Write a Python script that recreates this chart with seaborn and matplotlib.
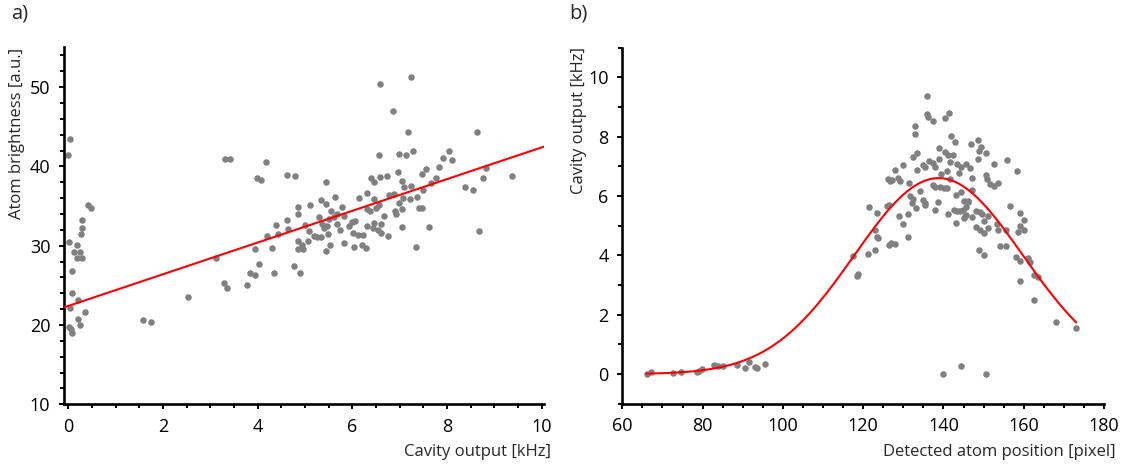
import numpy as np
import pandas as pd
import matplotlib
matplotlib.use("Agg")
import matplotlib.pyplot as plt
from matplotlib.ticker import MultipleLocator
import seaborn as sns

# ---------------- data: panel a ----------------
a_cavity = [
    0.03, 0.00, 0.42, 0.47, 0.29, 0.29, 0.27, 0.01, 0.18, 0.13, 0.25, 0.18, 0.29,
    0.08, 0.08, 0.21, 0.04, 0.35, 0.21, 0.01, 0.06, 0.08, 0.24,
    1.57, 1.75, 2.52, 3.13, 3.31, 3.41, 3.28, 3.36, 3.77, 3.83, 3.95, 3.94, 4.03,
    3.99, 4.07, 4.18, 4.20, 4.31, 4.34, 4.38, 4.44, 4.62, 4.78, 4.63, 4.64, 4.77,
    4.90, 4.85, 4.86, 4.86, 4.86, 4.93, 4.96,
    5.44, 6.59, 6.86, 6.57, 6.98, 6.40, 6.45, 6.58, 6.74, 6.96, 5.64, 5.34, 5.44,
    5.11, 5.01, 5.09, 5.06, 5.29, 5.20, 5.25, 5.34, 5.37, 5.41, 5.46, 5.51, 5.48,
    5.53, 5.45, 5.56, 5.62, 5.68, 5.67, 5.73, 5.78, 5.83, 5.83, 5.93, 5.99, 6.05,
    6.02, 6.03, 6.13, 6.23, 6.14, 6.31, 6.45, 6.31, 6.37, 6.50, 6.57, 6.31, 6.46,
    6.61, 6.43, 6.55, 6.61, 6.20, 6.30, 6.66, 6.75, 6.78, 6.88, 6.90, 6.93, 6.98,
    7.23, 7.18, 8.64, 7.13, 7.29, 8.04, 7.91, 8.11, 7.47, 7.55, 7.84, 8.82, 7.04,
    7.10, 7.24, 7.77, 7.66, 7.49, 8.77, 9.37, 8.38, 8.55, 7.08, 7.21, 7.37, 7.06,
    7.40, 7.48, 7.05, 7.63, 7.34, 8.68,
]
a_brightness = [
    43.5, 41.5, 35.1, 34.8, 33.2, 32.2, 31.5, 30.5, 30.1, 29.2, 29.2, 28.4, 28.4,
    26.8, 24.1, 23.2, 22.1, 21.6, 20.8, 19.8, 19.5, 19.0, 20.0,
    20.6, 20.4, 23.5, 28.4, 41.0, 40.9, 25.3, 24.7, 25.1, 26.5, 26.3, 29.6, 27.7,
    38.6, 38.3, 40.5, 31.2, 29.7, 26.5, 32.6, 31.5, 38.9, 38.8, 33.3, 32.1, 27.5,
    26.5, 34.9, 34.0, 30.6, 29.6, 30.1, 29.6,
    38.05, 50.4, 47.0, 41.5, 41.6, 38.6, 38.0, 38.7, 38.8, 39.3, 36.2, 35.8, 35.2,
    35.1, 32.6, 31.8, 30.6, 33.6, 31.2, 31.1, 31.15, 32.7, 32.2, 32.5, 33.4, 31.45,
    30.1, 29.3, 34.4, 33.6, 34.0, 32.7, 32.0, 34.9, 33.8, 30.4, 32.5, 33.0, 33.1,
    31.6, 29.85, 31.4, 31.3, 36.0, 36.6, 35.9, 34.6, 34.4, 34.7, 35.1, 32.5, 32.9,
    32.8, 32.2, 32.0, 31.65, 30.1, 29.7, 33.7, 31.2, 36.4, 36.5, 34.4, 34.05, 35.4,
    51.3, 44.3, 44.3, 41.5, 41.9, 42.0, 41.1, 40.8, 39.1, 39.7, 39.9, 39.8, 38.2,
    37.4, 37.5, 38.5, 37.9, 37.0, 38.5, 38.8, 37.4, 37.0, 36.0, 35.9, 36.2, 34.6,
    34.7, 34.8, 32.3, 32.3, 29.85, 31.9,
]
# linear fit shown in panel a
a_fit_intercept = 22.4
a_fit_slope = 2.0
a_fit_range = [-0.09, 10.05]

# ---------------- data: panel b ----------------
b_position = [
    66.1, 67.1, 72.6, 74.6, 78.5, 79.2, 79.9, 82.9, 83.9, 85.1, 88.5, 90.6, 91.5,
    93.1, 93.6, 95.6, 117.4, 118.4, 118.7, 121.4, 121.1,
    123.0, 123.4, 123.8, 123.0, 123.5, 126.4, 127.0, 127.9, 126.0, 126.5, 129.0,
    130.0, 131.1, 131.1, 131.7, 132.5, 132.1, 133.1, 134.2, 135.0, 135.3, 135.5,
    138.0, 138.6, 141.1, 143.1, 126.3, 126.8, 127.3, 128.7, 129.2, 128.0, 130.0,
    131.5, 132.5, 133.4, 133.5, 134.9, 135.5, 136.5, 137.4, 138.0, 138.9, 139.0,
    137.4, 138.0, 139.2, 140.1, 141.0, 139.5, 141.0, 141.7, 140.5, 141.2, 142.5,
    141.7, 143.3, 143.8, 144.4, 145.7, 143.2, 144.3, 145.0, 146.2, 142.7, 143.3,
    144.2, 144.8, 145.5, 145.0, 135.9, 135.9, 136.2, 137.5, 140.5, 141.5, 133.0,
    132.9, 142.0, 143.0,
    148.5, 146.9, 149.4, 148.9, 150.6, 148.5, 155.9, 152.6, 158.4, 146.6, 150.5,
    150.9, 151.6, 152.6, 153.6, 147.1, 147.1, 146.1, 145.7, 145.4, 147.1, 148.1,
    149.1, 149.6, 151.1, 150.1, 148.1, 149.1, 150.1, 151.1, 153.4, 153.6, 155.6,
    156.6, 159.0, 160.0, 159.0, 160.0, 158.5, 148.9, 150.1, 154.1, 155.6, 158.0,
    159.1, 161.0, 161.5, 162.5, 163.5, 159.1, 162.6, 168.0, 173.1,
    140.0, 144.5, 150.5,
]
b_cavity = [
    0.00, 0.07, 0.03, 0.08, 0.08, 0.10, 0.18, 0.29, 0.28, 0.26, 0.30, 0.21, 0.40,
    0.24, 0.21, 0.35, 3.99, 3.31, 3.36, 5.63, 4.06,
    4.17, 4.61, 4.59, 4.84, 5.42, 4.34, 4.41, 4.37, 5.65, 5.68, 5.32,
    5.07, 5.40, 4.63, 6.01, 5.91, 5.76, 5.58, 6.16, 5.88, 5.76, 5.69,
    5.52, 5.80, 5.40, 5.08, 6.58, 6.49, 6.55, 6.60, 6.52, 6.87, 7.04,
    6.42, 7.30, 7.46, 6.88, 7.03, 6.96, 7.18, 7.10, 6.96, 7.25, 7.61,
    6.36, 6.30, 6.29, 6.27, 6.27, 6.75, 6.83, 6.56, 7.47, 7.39, 7.39,
    7.15, 7.08, 6.76, 6.98, 7.07, 6.03, 6.13, 5.82, 5.80, 5.54, 5.49,
    5.49, 5.52, 5.35, 5.26, 9.36, 8.75, 8.66, 8.54, 8.61, 8.79, 8.37,
    8.09, 8.02, 7.81,
    7.89, 7.74, 7.65, 7.52, 7.44, 7.23, 7.21, 7.06, 6.85, 6.94, 6.72,
    6.58, 6.40, 6.32, 6.42, 6.59, 6.21, 5.82, 5.62, 5.32, 5.28, 5.51,
    5.46, 5.40, 5.32, 5.17, 4.95, 4.84, 4.75, 4.93, 5.04, 4.87, 4.84,
    5.66, 5.44, 5.19, 4.99, 4.86, 4.77, 4.19, 4.01, 4.30, 4.32, 3.94,
    3.81, 3.92, 3.77, 3.34, 3.27, 3.12, 2.50, 1.74, 1.55,
    0.00, 0.28, 0.01,
]
# Gaussian fit shown in panel b
b_fit_amplitude = 6.6
b_fit_center = 138.8
b_fit_width = 21.0
b_fit_range = [66.0, 173.1]

# ---------------- style ----------------
sns.set_style("ticks")
plt.rcParams["font.family"] = ["Open Sans", "DejaVu Sans"]

DOT = "#808080"
RED = "#ff0000"
TICK_FS = 13
LABEL_FS = 12
PANEL_FS = 14.5

fig = plt.figure(figsize=(11.26, 4.70), dpi=100)
ax_a = fig.add_axes([64 / 1126, 1 - 404.3 / 470, 480 / 1126, 356.8 / 470])
ax_b = fig.add_axes([622.3 / 1126, 1 - 403.8 / 470, 481.7 / 1126, 356.3 / 470])

df_a = pd.DataFrame({"x": a_cavity, "y": a_brightness})
df_b = pd.DataFrame({"x": b_position, "y": b_cavity})

sns.scatterplot(data=df_a, x="x", y="y", ax=ax_a, color=DOT, s=22,
                linewidth=0, zorder=2)
sns.scatterplot(data=df_b, x="x", y="y", ax=ax_b, color=DOT, s=22,
                linewidth=0, zorder=2)

fa_x = np.array(a_fit_range)
fit_a = pd.DataFrame({"x": fa_x, "y": a_fit_intercept + a_fit_slope * fa_x})
sns.lineplot(data=fit_a, x="x", y="y", ax=ax_a, color=RED, linewidth=1.5,
             zorder=3)

fb_x = np.linspace(b_fit_range[0], b_fit_range[1], 300)
fit_b = pd.DataFrame({"x": fb_x,
                      "y": b_fit_amplitude * np.exp(-(fb_x - b_fit_center) ** 2
                                                    / (2 * b_fit_width ** 2))})
sns.lineplot(data=fit_b, x="x", y="y", ax=ax_b, color=RED, linewidth=1.5,
             zorder=3)

# axes limits / ticks
ax_a.set_xlim(-0.09, 10.05)
ax_a.set_ylim(10, 55)
ax_a.xaxis.set_major_locator(MultipleLocator(2))
ax_a.xaxis.set_minor_locator(MultipleLocator(0.5))
ax_a.yaxis.set_major_locator(MultipleLocator(10))
ax_a.yaxis.set_minor_locator(MultipleLocator(2))

ax_b.set_xlim(60, 180)
ax_b.set_ylim(-1, 11)
ax_b.xaxis.set_major_locator(MultipleLocator(20))
ax_b.xaxis.set_minor_locator(MultipleLocator(5))
ax_b.yaxis.set_major_locator(MultipleLocator(2))
ax_b.yaxis.set_minor_locator(MultipleLocator(1))

for ax in (ax_a, ax_b):
    sns.despine(ax=ax)
    for sp in ("left", "bottom"):
        ax.spines[sp].set_linewidth(1.9)
        ax.spines[sp].set_color("black")
    ax.tick_params(which="major", direction="out", length=3.8, width=1.4,
                   pad=6.0, labelsize=TICK_FS, colors="black")
    ax.tick_params(which="minor", direction="out", length=2.8, width=1.4,
                   colors="black")
    ax.grid(False)

ax_a.set_xlabel("Cavity output [kHz]", fontsize=LABEL_FS, loc="right")
ax_a.set_ylabel("Atom brightness [a.u.]", fontsize=LABEL_FS, loc="top")
ax_b.set_xlabel("Detected atom position [pixel]", fontsize=LABEL_FS, loc="right")
ax_b.set_ylabel("Cavity output [kHz]", fontsize=LABEL_FS, loc="top")

ax_a.xaxis.set_label_coords((551 - 64) / 480, -40 / 356.8)
ax_a.yaxis.set_label_coords(-(64 - 25) / 480, 1.0)
ax_b.xaxis.set_label_coords((1116 - 622.3) / 481.7, -40 / 356.3)
ax_b.yaxis.set_label_coords(-(622.3 - 587) / 481.7, 1.0)

fig.text(11 / 1126, 1 - 3 / 470, "a)", fontsize=PANEL_FS, va="top", ha="left")
fig.text(569 / 1126, 1 - 3 / 470, "b)", fontsize=PANEL_FS, va="top", ha="left")

fig.savefig("out.png", dpi=100)
